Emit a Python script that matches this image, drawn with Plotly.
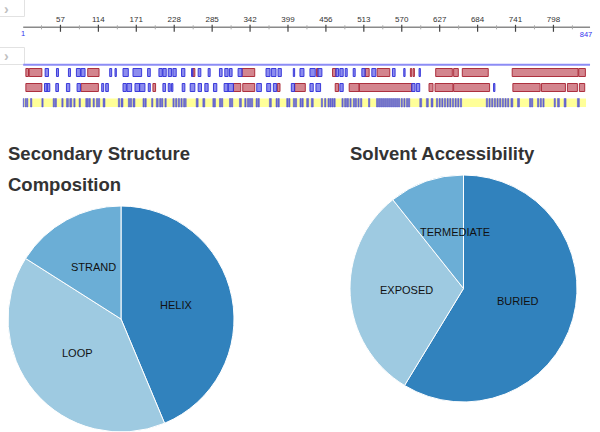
import math
import plotly.graph_objects as go

W, H = 600, 432
OFF = 0  # page body margin is removed below, so figure pixels == page pixels

# ---------------- data ----------------
seq_start, seq_end = 1, 847
ruler_ticks = [57, 114, 171, 228, 285, 342, 399, 456, 513, 570, 627, 684, 741, 798]

row1_red = [(5, 9), (10, 29), (98, 115), (256, 259), (330, 349), (442, 444), (466, 471),
            (515, 521), (533, 552), (583, 585), (587, 589), (621, 646), (648, 655),
            (661, 700), (736, 835), (836, 846)]
row1_blue = [(34, 39), (51, 54), (69, 72), (81, 87), (88, 94), (131, 134), (139, 141),
             (151, 159), (166, 179), (188, 192), (205, 210), (211, 216), (219, 224),
             (226, 231), (239, 244), (254, 256), (264, 268), (279, 282), (296, 300),
             (304, 309), (311, 315), (324, 330), (366, 372), (374, 381), (384, 389),
             (407, 409), (417, 423), (432, 440), (444, 450), (471, 475), (477, 482),
             (485, 488), (497, 500), (510, 515), (525, 531), (556, 560), (573, 575),
             (596, 598)]
row2_red = [(5, 29), (88, 114), (196, 200), (317, 328), (331, 349), (383, 387),
            (409, 425), (470, 475), (491, 506), (506, 585), (611, 617), (620, 647),
            (648, 702), (737, 778), (780, 816), (819, 834), (837, 845)]
row2_blue = [(33, 37), (37, 41), (50, 54), (66, 71), (82, 87), (119, 122), (125, 129),
             (151, 156), (157, 164), (169, 176), (176, 184), (189, 192), (211, 215),
             (219, 222), (224, 226), (240, 244), (252, 259), (264, 269), (274, 279),
             (287, 292), (303, 309), (309, 317), (352, 359), (367, 373), (377, 382),
             (404, 409), (432, 437), (441, 448), (477, 482), (585, 590), (592, 597),
             (708, 710)]
row3_blue = [(1, 2), (4, 5), (6, 8), (12, 14), (29, 31), (46, 48), (49, 51), (59, 61),
             (66, 69), (71, 74), (77, 79), (85, 87), (95, 99), (100, 102), (106, 108),
             (111, 113), (114, 116), (121, 124), (144, 146), (148, 151), (159, 161),
             (162, 164), (166, 169), (181, 183), (184, 186), (194, 196), (201, 204),
             (206, 208), (209, 211), (214, 216), (226, 228), (230, 232), (234, 236),
             (238, 240), (242, 244), (245, 246), (261, 264), (271, 274), (286, 290),
             (296, 298), (299, 301), (311, 313), (314, 316), (326, 329), (334, 336),
             (338, 340), (341, 343), (344, 346), (351, 353), (354, 356), (371, 374),
             (381, 383), (384, 386), (397, 399), (400, 402), (407, 409), (410, 412),
             (417, 419), (420, 422), (427, 430), (434, 437), (449, 451), (454, 456),
             (459, 461), (462, 464), (465, 467), (468, 470), (480, 482), (484, 486),
             (487, 490), (492, 494), (497, 499), (500, 502), (504, 506), (508, 510),
             (520, 522), (532, 534), (535, 537), (538, 540), (541, 543), (544, 546),
             (547, 549), (550, 552), (553, 555), (556, 558), (559, 561), (562, 564),
             (565, 567), (569, 571), (573, 575), (577, 579), (580, 582), (597, 600),
             (607, 610), (614, 617), (622, 624), (626, 628), (630, 632), (634, 636),
             (638, 640), (642, 644), (646, 648), (650, 652), (654, 656), (658, 660),
             (697, 699), (701, 703), (705, 707), (709, 711), (713, 715), (717, 719),
             (721, 723), (725, 727), (729, 731), (734, 737), (744, 747), (762, 764),
             (765, 767), (774, 776), (778, 780), (782, 784), (799, 801), (804, 807),
             (814, 817), (834, 837)]

ss_labels = ["HELIX", "LOOP", "STRAND"]
ss_values = [43.7, 40.3, 16.0]
sa_labels = ["BURIED", "EXPOSED", "INTERMEDIATE"]
sa_values = [58.7, 30.6, 10.7]

# ---------------- styles ----------------
RED_FILL, RED_LINE = "rgba(180,45,60,0.58)", "rgba(170,40,55,0.95)"
BLUE_FILL, BLUE_LINE = "rgba(70,70,228,0.62)", "rgba(45,45,215,0.9)"
B3_FILL, B3_LINE = "rgba(45,45,225,0.7)", "rgba(70,70,225,0.45)"
YELLOW = "#ffff99"
PIE_COLORS = ["#3182bd", "#9ecae1", "#6baed6"]
FONT = "Liberation Sans, Arial, sans-serif"

# track axis: residue units horizontally, page-pixel units vertically
px_per_res = 0.6653
res1_px = 23.2
x0_res = seq_start - (res1_px - OFF) / px_per_res
x1_res = x0_res + W / px_per_res
TRACK_H = 110

ROW_Y = {1: (68.5, 76.5), 2: (83.5, 91.5), 3: (98.5, 107)}

fig = go.Figure()
shapes = []
annotations = []


def px_x(p):
    return (p - OFF) / W


def px_y(p):
    return 1 - (p - OFF) / H


def seg_shapes(segs, row, fill, line):
    y0, y1 = ROW_Y[row]
    for a, b in segs:
        shapes.append(dict(type="rect", xref="x", yref="y", x0=a, x1=b, y0=y0, y1=y1,
                           fillcolor=fill, line=dict(color=line, width=1), layer="above"))


# left button boxes
for (by0, by1, gy) in [(-2, 16.5, 9.5), (47.5, 64.5, 56)]:
    shapes.append(dict(type="rect", xref="paper", yref="paper", x0=px_x(-2), x1=px_x(24.5),
                       y0=px_y(by1), y1=px_y(by0), fillcolor="white",
                       line=dict(color="#e2e2e2", width=1)))
    annotations.append(dict(xref="paper", yref="paper", x=px_x(6.5), y=px_y(gy),
                            xanchor="center", yanchor="middle", borderpad=0,
                            text="<b>›</b>", showarrow=False, font=dict(size=14, color="#c0c0c0", family=FONT)))

# ruler line
fig.add_trace(go.Scatter(x=[seq_start, seq_end + 6], y=[27.3, 27.3], mode="lines",
                         line=dict(color="#8a8a8a", width=1.5), xaxis="x", yaxis="y",
                         hoverinfo="skip", showlegend=False))
# minor ticks (midpoints between the major ticks)
step = ruler_ticks[1] - ruler_ticks[0]
minor = [ruler_ticks[0] - step / 2] + [(a + b) / 2 for a, b in zip(ruler_ticks[:-1], ruler_ticks[1:])] \
        + [ruler_ticks[-1] + step / 2]
mx, my = [], []
for t in minor:
    mx += [t, t, None]
    my += [25.3, 29.3, None]
fig.add_trace(go.Scatter(x=mx, y=my, mode="lines", line=dict(color="#a8a8a8", width=1),
                         hoverinfo="skip", showlegend=False))
tx, ty = [], []
for t in ruler_ticks:
    tx += [t, t, None]
    ty += [24.8, 31.8, None]
fig.add_trace(go.Scatter(x=tx, y=ty, mode="lines", line=dict(color="#444", width=1.2),
                         hoverinfo="skip", showlegend=False))
fig.add_trace(go.Scatter(x=ruler_ticks, y=[20] * len(ruler_ticks), mode="text",
                         text=[str(t) for t in ruler_ticks],
                         textfont=dict(size=8, color="#333", family=FONT),
                         hoverinfo="skip", showlegend=False))
fig.add_trace(go.Scatter(x=[seq_start, seq_end], y=[34.5, 35], mode="text",
                         text=[str(seq_start), str(seq_end)],
                         textfont=dict(size=7.5, color="#3333ee", family=FONT),
                         hoverinfo="skip", showlegend=False))

# feature track top line
shapes.append(dict(type="line", xref="x", yref="y", x0=seq_start, x1=seq_end + 6, y0=64.8, y1=64.8,
                   line=dict(color="#8c8cf5", width=2)))
# yellow background row 3
shapes.append(dict(type="rect", xref="x", yref="y", x0=seq_start, x1=seq_end, y0=ROW_Y[3][0],
                   y1=ROW_Y[3][1], fillcolor=YELLOW, line=dict(width=0), layer="above"))
seg_shapes(row1_red, 1, RED_FILL, RED_LINE)
seg_shapes(row1_blue, 1, BLUE_FILL, BLUE_LINE)
seg_shapes(row2_red, 2, RED_FILL, RED_LINE)
seg_shapes(row2_blue, 2, BLUE_FILL, BLUE_LINE)
seg_shapes(row3_blue, 3, B3_FILL, B3_LINE)

# ---------------- pies ----------------
ss_dom = dict(x=[px_x(7), px_x(235)], y=[0.0, px_y(206)])
sa_dom = dict(x=[px_x(350), px_x(577)], y=[px_y(402), px_y(175)])

for labels, values, dom in [(ss_labels, ss_values, ss_dom), (sa_labels, sa_values, sa_dom)]:
    fig.add_trace(go.Pie(labels=labels, values=values, sort=False, direction="clockwise",
                         rotation=0, domain=dom, textinfo="none", hoverinfo="label+percent",
                         marker=dict(colors=PIE_COLORS, line=dict(color="white", width=1)),
                         showlegend=False))


def pie_geom(dom):
    cx = (dom["x"][0] + dom["x"][1]) / 2 * W + OFF
    cy = (1 - (dom["y"][0] + dom["y"][1]) / 2) * H + OFF
    r = min((dom["x"][1] - dom["x"][0]) * W, (dom["y"][1] - dom["y"][0]) * H) / 2
    return cx, cy, r


def label_positions(values, dom):
    cx, cy, r = pie_geom(dom)
    tot = sum(values)
    cum = 0
    out = []
    for v in values:
        th = 2 * math.pi * (cum + v / 2) / tot
        out.append((cx + 0.5 * r * math.sin(th), cy - 0.5 * r * math.cos(th) - 2.5, 2 * math.pi * cum / tot))
        cum += v
    return out, (cx, cy, r)


lab_font = dict(size=11, color="#111", family=FONT)
pos, _ = label_positions(ss_values, ss_dom)
for lab, (lx, ly, _a) in zip(ss_labels, pos):
    annotations.append(dict(xref="paper", yref="paper", x=px_x(lx), y=px_y(ly), text=lab,
                            xanchor="center", yanchor="middle", showarrow=False, font=lab_font))
pos, (cx, cy, r) = label_positions(sa_values, sa_dom)
for i, (lab, (lx, ly, a0)) in enumerate(zip(sa_labels, pos)):
    if i == 2:
        # the start of this label is hidden behind the EXPOSED slice, as in the original
        t = (cy - ly) / math.cos(a0)
        bx = cx + t * math.sin(a0)
        annotations.append(dict(xref="paper", yref="paper", x=px_x(bx - 1), y=px_y(ly), text="TERMEDIATE",
                                xanchor="left", yanchor="middle", showarrow=False, font=lab_font))
    else:
        annotations.append(dict(xref="paper", yref="paper", x=px_x(lx), y=px_y(ly), text=lab,
                                xanchor="center", yanchor="middle", showarrow=False, font=lab_font))

title_font = dict(size=18.5, color="#333", family=FONT, weight="bold")
for txt, x, y in [("Secondary Structure", 6, 153.5), ("Composition", 6, 184), ("Solvent Accessibility", 348, 153.5)]:
    annotations.append(dict(xref="paper", yref="paper", x=px_x(x), y=px_y(y), text=txt, xanchor="left",
                            yanchor="middle", showarrow=False, font=title_font))

fig.update_layout(
    width=W, height=H, margin=dict(l=0, r=0, t=0, b=0),
    paper_bgcolor="white", plot_bgcolor="white",
    xaxis=dict(range=[x0_res, x1_res], domain=[0, 1], visible=False, fixedrange=True),
    yaxis=dict(range=[TRACK_H + OFF, OFF], domain=[1 - TRACK_H / H, 1], visible=False, fixedrange=True),
    shapes=shapes, annotations=annotations, showlegend=False,
)

fig.write_html("out.html", config={"displayModeBar": False},
               post_script="document.body.style.margin='0px';document.body.style.overflow='hidden';")
